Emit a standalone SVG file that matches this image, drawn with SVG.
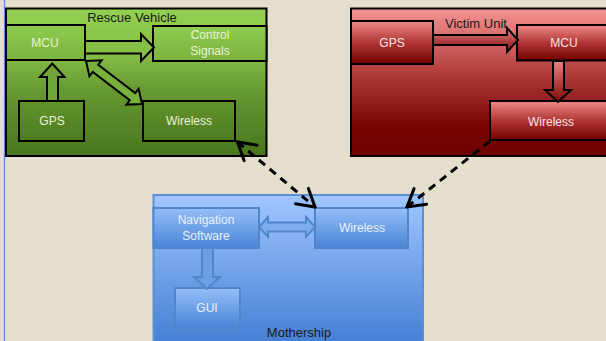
<svg xmlns="http://www.w3.org/2000/svg" width="606" height="341" viewBox="0 0 606 341">
<defs>
<style>
.title{font-family:"Liberation Sans",Arial,sans-serif;font-size:13px;fill:#1a1a1a;text-anchor:middle}
.lbl{font-family:"Liberation Sans",Arial,sans-serif;font-size:12px;text-anchor:middle;dominant-baseline:central}
.g{fill:#E8F3DA}.r{fill:#F8E4E4}.b{fill:#EAF1FB}
.bk{stroke:#000;stroke-width:2}
.bl{stroke:#4F86CC;stroke-width:2}
.dash{fill:none;stroke:#000;stroke-width:3;stroke-dasharray:8 6}
</style>
<linearGradient id="gCont" x1="0" y1="0" x2="0" y2="1">
<stop offset="0" stop-color="#93D151"/><stop offset="0.3" stop-color="#86BF46"/><stop offset="0.55" stop-color="#679932"/><stop offset="1" stop-color="#4A751C"/>
</linearGradient>
<linearGradient id="gBoxTop" x1="0" y1="0" x2="0" y2="1">
<stop offset="0" stop-color="#90CC50"/><stop offset="1" stop-color="#7BB23E"/>
</linearGradient>
<linearGradient id="gBoxLow" x1="0" y1="0" x2="0" y2="1">
<stop offset="0" stop-color="#62932C"/><stop offset="1" stop-color="#4E7A1F"/>
</linearGradient>
<linearGradient id="rCont" x1="0" y1="0" x2="0" y2="1">
<stop offset="0" stop-color="#F59492"/><stop offset="0.45" stop-color="#B03A3A"/><stop offset="0.8" stop-color="#780404"/><stop offset="1" stop-color="#700000"/>
</linearGradient>
<linearGradient id="rBox" x1="0" y1="0" x2="0" y2="1">
<stop offset="0" stop-color="#EE8A88"/><stop offset="0.5" stop-color="#B03636"/><stop offset="1" stop-color="#730000"/>
</linearGradient>
<linearGradient id="rArr" x1="0" y1="0" x2="0" y2="1">
<stop offset="0" stop-color="#E88484"/><stop offset="1" stop-color="#800606"/>
</linearGradient>
<linearGradient id="bCont" x1="0" y1="0" x2="0" y2="1">
<stop offset="0" stop-color="#A0C6FF"/><stop offset="1" stop-color="#3E7AD0"/>
</linearGradient>
<linearGradient id="bBox" x1="0" y1="0" x2="0" y2="1">
<stop offset="0" stop-color="#94BFF8"/><stop offset="1" stop-color="#4A84D6"/>
</linearGradient>
<marker id="vh" markerUnits="userSpaceOnUse" viewBox="-20 -12 22 24" markerWidth="22" markerHeight="24" refX="0" refY="0" orient="auto-start-reverse">
<path d="M-17,-10 L0,0 L-17,10" fill="none" stroke="#000" stroke-width="3" stroke-linecap="round" stroke-linejoin="miter"/>
</marker>
</defs>
<rect x="0" y="0" width="606" height="341" fill="#E3DFCC"/>
<line x1="4.5" y1="0" x2="4.5" y2="341" stroke="#5B8BD0" stroke-width="1.2"/>

<g id="rescue-vehicle">
<rect x="6" y="8.5" width="260.5" height="147.5" fill="url(#gCont)" class="bk"/>
<text class="title" x="132" y="21.5">Rescue Vehicle</text>
</g>
<g id="rv-mcu">
<rect x="6" y="25" width="79" height="35" fill="url(#gBoxTop)" class="bk"/>
<text class="lbl g" x="45" y="43">MCU</text>
</g>
<g id="rv-control">
<rect x="153" y="26" width="113.5" height="35" fill="url(#gBoxTop)" class="bk"/>
<text class="lbl g" x="210" y="35">Control</text>
<text class="lbl g" x="210" y="51">Signals</text>
</g>
<g id="rv-gps">
<rect x="19" y="101" width="65" height="40" fill="url(#gBoxLow)" class="bk"/>
<text class="lbl g" x="52" y="121">GPS</text>
</g>
<g id="rv-wireless">
<rect x="143" y="101" width="92" height="40" fill="url(#gBoxLow)" class="bk"/>
<text class="lbl g" x="189" y="121">Wireless</text>
</g>

<g id="victim-unit">
<rect x="351" y="8.5" width="270" height="147.5" fill="url(#rCont)" class="bk"/>
<text class="title" x="476" y="28">Victim Unit</text>
</g>
<g id="vu-gps">
<rect x="351" y="21" width="82" height="43" fill="url(#rBox)" class="bk"/>
<text class="lbl r" x="392" y="43">GPS</text>
</g>
<g id="vu-mcu">
<rect x="517" y="25" width="100" height="35.5" fill="url(#rBox)" class="bk"/>
<text class="lbl r" x="564" y="43">MCU</text>
</g>
<g id="vu-wireless">
<rect x="490" y="101" width="130" height="39" fill="url(#rBox)" class="bk"/>
<text class="lbl r" x="551" y="122">Wireless</text>
</g>

<g id="mothership">
<rect x="153.5" y="195" width="269.5" height="160" fill="url(#bCont)" stroke="#5C8FD4" stroke-width="2"/>
<text class="title" x="299" y="337">Mothership</text>
</g>
<g id="ms-nav">
<rect x="153.5" y="208" width="105.5" height="40" fill="url(#bBox)" class="bl"/>
<text class="lbl b" x="206" y="220">Navigation</text>
<text class="lbl b" x="206" y="236">Software</text>
</g>
<g id="ms-wireless">
<rect x="315" y="208" width="93" height="40" fill="url(#bBox)" class="bl"/>
<text class="lbl b" x="362" y="228">Wireless</text>
</g>
<g id="ms-gui">
<rect x="175" y="288" width="65" height="40" fill="url(#bBox)" class="bl"/>
<text class="lbl b" x="207" y="308">GUI</text>
</g>

<g id="connectors">
<polygon points="85,41 141,41 141,34 154,47.5 141,61 141,53.5 85,53.5" fill="#86BF46" stroke="#000" stroke-width="2" stroke-linejoin="miter"/>
<polygon points="47,101 47,77 40,77 52.3,63.5 64.5,77 58,77 58,101" fill="#6FA536" stroke="#000" stroke-width="2"/>
<polygon transform="translate(86,61) rotate(37.5)" points="0,0 12,-10 12,-4.5 58.6,-4.5 58.6,-10 70.6,0 58.6,10 58.6,4.5 12,4.5 12,10" fill="#78B03C" stroke="#000" stroke-width="2"/>
<polygon points="433,35 507,35 507,28 518,40 507,52 507,45 433,45" fill="url(#rArr)" stroke="#000" stroke-width="2"/>
<polygon points="553,61 564,61 564,90 571,90 558,102 545,90 553,90" fill="url(#rArr)" stroke="#000" stroke-width="2"/>
<polygon points="259,227 268,217 268,222.5 306,222.5 306,217 315,227 306,237 306,231.5 268,231.5 268,237" fill="#7EAEEE" stroke="#4F86CC" stroke-width="2"/>
<polygon points="202,248 213,248 213,277 220,277 207,289 194,277 202,277" fill="#6C9EE4" stroke="#4F86CC" stroke-width="2"/>
<line class="dash" x1="237.5" y1="142" x2="315" y2="207" marker-start="url(#vh)" marker-end="url(#vh)"/>
<line class="dash" x1="490" y1="141" x2="407" y2="207" marker-end="url(#vh)"/>
</g>
</svg>
